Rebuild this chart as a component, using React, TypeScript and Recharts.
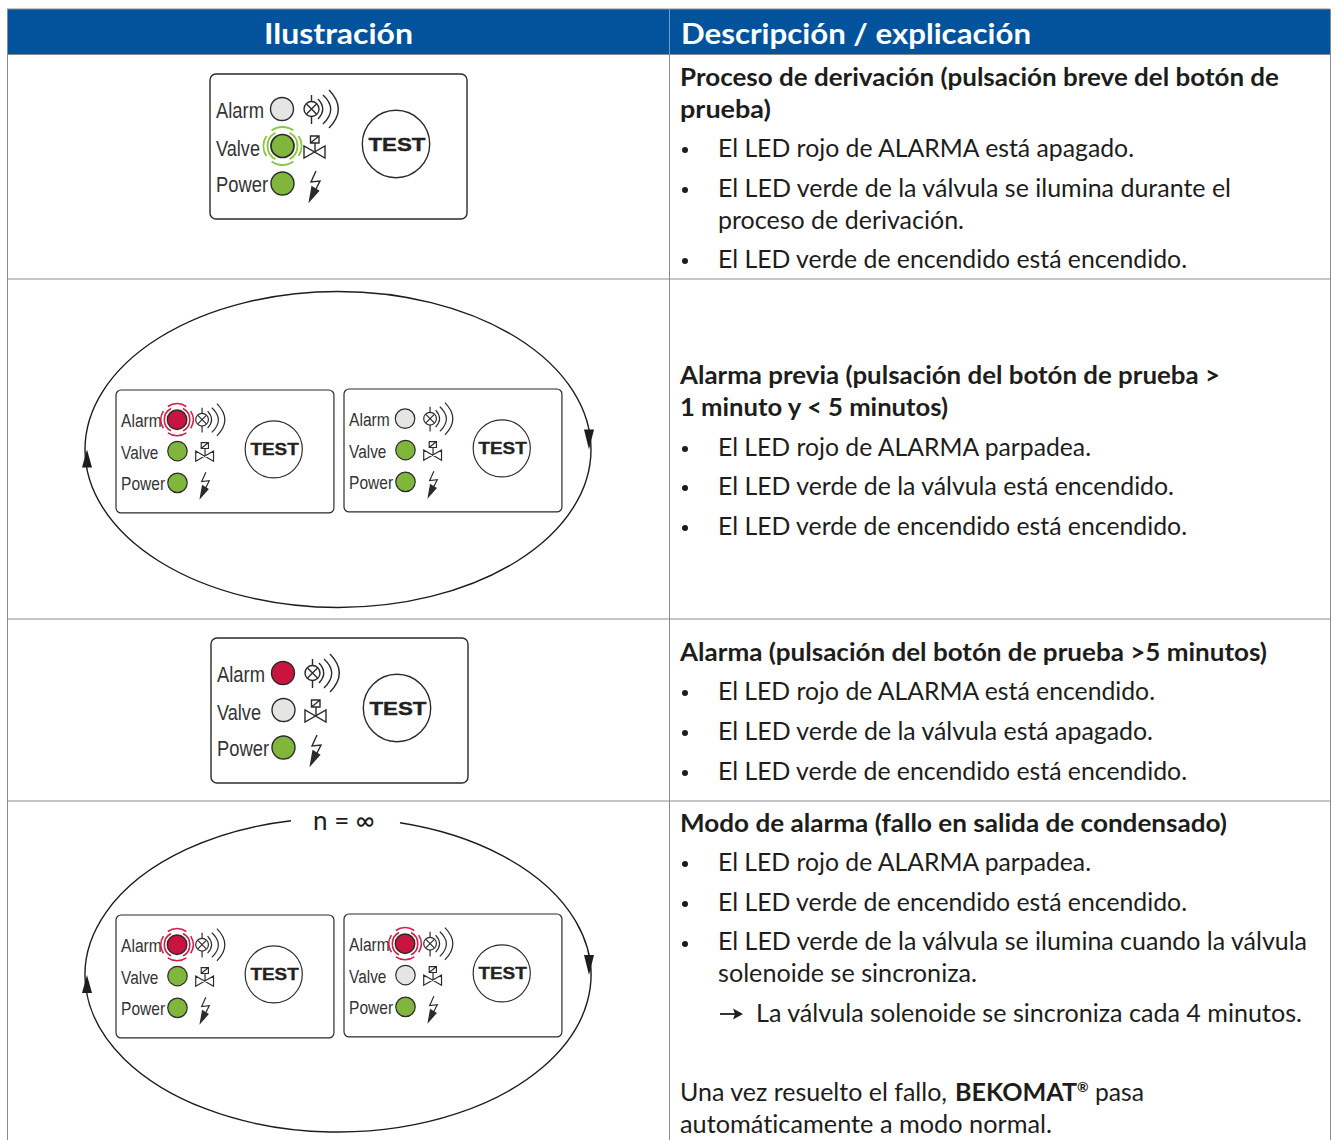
import { ReferenceArea, ReferenceLine, Scatter, ScatterChart, XAxis, YAxis } from 'recharts';

// La tabla entera vive en un espacio de 1338x1140: los ejes ocultos mapean 1:1 a píxeles.

const WIDTH = 1338;
const HEIGHT = 1140;

const INK = '#1d1d1b';
const PANEL_INK = '#2b2b2b';
const RULE = '#8c8c8c';
const HEADER_BLUE = '#03539c';
const BODY_FONT = 'Lato, "Noto Sans", sans-serif';
const PANEL_FONT = '"Liberation Sans", Arial, sans-serif';

type Led = 'off' | 'green' | 'red' | 'greenPulse' | 'redPulse';

const panelX = [210, 116, 344, 211, 116, 344];
const panelY = [74, 390, 389, 638, 915, 914];
const panelScale = [1, 0.848, 0.848, 1, 0.848, 0.848];
const panelLeds: Led[][] = [
  ['off', 'greenPulse', 'green'],
  ['redPulse', 'green', 'green'],
  ['off', 'green', 'green'],
  ['red', 'off', 'green'],
  ['redPulse', 'green', 'green'],
  ['redPulse', 'off', 'green'],
];

const ledOffsetX = [72, 72.5, 72.5];
const ledOffsetY = [35, 72, 109.5];

const ellipseCenterY = [449.5, 975];
const ellipseRy = [158, 157];
const ellipseGap = [0, 1];

const columnTitles = ['Ilustración', 'Descripción / explicación'];

const rowOneLines = [
  ['Proceso de derivación (pulsación breve del botón de', 680, 86, 599, 1],
  ['prueba)', 680, 118, 91, 1],
  ['El LED rojo de ALARMA está apagado.', 718, 157, 416, 0],
  ['El LED verde de la válvula se ilumina durante el', 718, 197, 513, 0],
  ['proceso de derivación.', 718, 229, 246, 0],
  ['El LED verde de encendido está encendido.', 718, 268, 469, 0],
];
const rowTwoLines = [
  ['Alarma previa (pulsación del botón de prueba >', 680, 384, 540, 1],
  ['1 minuto y < 5 minutos)', 680, 416, 268, 1],
  ['El LED rojo de ALARMA parpadea.', 718, 456, 373, 0],
  ['El LED verde de la válvula está encendido.', 718, 495, 456, 0],
  ['El LED verde de encendido está encendido.', 718, 535, 469, 0],
];
const rowThreeLines = [
  ['Alarma (pulsación del botón de prueba >5 minutos)', 680, 661, 587, 1],
  ['El LED rojo de ALARMA está encendido.', 718, 700, 437, 0],
  ['El LED verde de la válvula está apagado.', 718, 740, 435, 0],
  ['El LED verde de encendido está encendido.', 718, 780, 469, 0],
];
const rowFourLines = [
  ['Modo de alarma (fallo en salida de condensado)', 680, 832, 547, 1],
  ['El LED rojo de ALARMA parpadea.', 718, 871, 373, 0],
  ['El LED verde de encendido está encendido.', 718, 911, 469, 0],
  ['El LED verde de la válvula se ilumina cuando la válvula', 718, 950, 589, 0],
  ['solenoide se sincroniza.', 718, 982, 259, 0],
  ['La válvula solenoide se sincroniza cada 4 minutos.', 756, 1022, 546, 0],
  ['Una vez resuelto el fallo,', 680, 1101, 267, 0],
  ['BEKOMAT', 955, 1101, 122, 1],
  ['pasa', 1095, 1101, 49, 0],
  ['automáticamente a modo normal.', 680, 1133, 372, 0],
];

const bulletY = [150, 190, 261, 449, 488, 528, 693, 733, 773, 864, 904, 944];
const rowRuleY = [54.5, 279, 619, 801];

const leds = panelX.flatMap((px, p) =>
  panelLeds[p].map((state, i) => ({
    x: px + ledOffsetX[i] * panelScale[p],
    y: panelY[p] + ledOffsetY[i] * panelScale[p],
    state,
    scale: panelScale[p],
  })),
);
const panels = panelX.map((x, i) => ({ x, y: panelY[i], scale: panelScale[i] }));
const ellipses = ellipseCenterY.map((y, i) => ({ x: 338, y, ry: ellipseRy[i], gap: ellipseGap[i] }));
const bullets = bulletY.map((y) => ({ x: 685, y }));
const lines = [...rowOneLines, ...rowTwoLines, ...rowThreeLines, ...rowFourLines].map(
  ([text, x, y, width, bold]) => ({ text, x, y, width, bold }),
);
const titles = [
  { text: columnTitles[0], x: 264, y: 44, width: 149 },
  { text: columnTitles[1], x: 681, y: 44, width: 350 },
];

function arcPath(r: number, from: number, to: number) {
  const a = (from * Math.PI) / 180;
  const b = (to * Math.PI) / 180;
  return `M${r * Math.cos(a)} ${r * Math.sin(a)}A${r} ${r} 0 0 1 ${r * Math.cos(b)} ${r * Math.sin(b)}`;
}

function PanelShape({ cx, cy, payload }: any) {
  const label = { fontFamily: PANEL_FONT, fontSize: 22, fill: '#333', lengthAdjust: 'spacingAndGlyphs' } as const;
  return (
    <g transform={`translate(${cx} ${cy}) scale(${payload.scale})`} fill="none" stroke={PANEL_INK} strokeWidth={1.4}>
      <rect x={0} y={0} width={257} height={145} rx={6} fill="#fff" />
      <text x={6} y={43.5} textLength={48} stroke="none" {...label}>Alarm</text>
      <text x={6} y={81.5} textLength={44} stroke="none" {...label}>Valve</text>
      <text x={6} y={118} textLength={52} stroke="none" {...label}>Power</text>

      <circle cx={101.5} cy={35} r={7.5} />
      <path d="M101.5 21V27.5M101.5 42.5V50M96.5 30L106.5 40M106.5 30L96.5 40" />
      <path d="M108 25Q117.4 35 108 45M113 21Q128.4 35 113 50M119 16Q137.6 35 119 54" />

      <path d="M100.5 62H109V69H100.5ZM100.5 69L109 62M105 69V77M94 72V84L115 72V84Z" />

      <path d="M106 97L101 108L110 107L105 117" />
      <path d="M99.5 127L102 113L108.5 117Z" fill={PANEL_INK} />

      <circle cx={186} cy={70} r={33.7} />
      <text
        x={158.5}
        y={77}
        textLength={57}
        lengthAdjust="spacingAndGlyphs"
        fontFamily={PANEL_FONT}
        fontWeight={700}
        fontSize={19}
        fill="#222"
        stroke="#222"
        strokeWidth={0.4}
      >
        TEST
      </text>
    </g>
  );
}

function LedShape({ cx, cy, payload }: any) {
  const state: Led = payload.state;
  const isRed = state === 'red' || state === 'redPulse';
  const isOff = state === 'off';
  const fill = isOff ? '#e5e6e4' : isRed ? '#c8143f' : '#80b63c';
  const ring = isRed ? '#d21f4a' : '#8cc63f';
  const pulse = state === 'greenPulse' || state === 'redPulse';
  return (
    <g transform={`translate(${cx} ${cy}) scale(${payload.scale})`}>
      {pulse && (
        <g fill="none" stroke={ring} strokeWidth={1.9}>
          <path d={arcPath(19, -125, -55)} />
          <path d={arcPath(19, 55, 125)} />
          <path d={arcPath(19, -32, 32)} />
          <path d={arcPath(19, 148, 212)} />
          <path d={arcPath(15, -62, 62)} />
          <path d={arcPath(15, 118, 242)} />
        </g>
      )}
      <circle r={11.5} fill={fill} stroke={PANEL_INK} strokeWidth={pulse ? 1.7 : 1.4} />
    </g>
  );
}

function EllipseShape({ cx, cy, payload }: any) {
  const rx = 253;
  const ry = payload.ry;
  let outline = `M${-rx} 0A${rx} ${ry} 0 1 1 ${rx} 0A${rx} ${ry} 0 1 1 ${-rx} 0Z`;
  if (payload.gap) {
    const startX = 62;
    const endX = -47;
    const yAt = (x: number) => -ry * Math.sqrt(1 - (x * x) / (rx * rx));
    outline = `M${startX} ${yAt(startX)}A${rx} ${ry} 0 1 1 ${endX} ${yAt(endX)}`;
  }
  return (
    <g transform={`translate(${cx} ${cy})`}>
      <path d={outline} fill="none" stroke={INK} strokeWidth={1.4} />
      <path d="M-251 0L-256 18H-246Z" fill={INK} />
      <path d="M251 0L246 -20H256Z" fill={INK} />
    </g>
  );
}

function LineShape({ cx, cy, payload }: any) {
  return (
    <text
      x={cx}
      y={cy}
      textLength={payload.width}
      lengthAdjust="spacingAndGlyphs"
      fontFamily={BODY_FONT}
      fontSize={25}
      fontWeight={payload.bold ? 700 : 400}
      fill={INK}
      style={{ fontVariantLigatures: 'none' }}
    >
      {payload.text}
    </text>
  );
}

function TitleShape({ cx, cy, payload }: any) {
  return (
    <text
      x={cx}
      y={cy}
      textLength={payload.width}
      lengthAdjust="spacingAndGlyphs"
      fontFamily={BODY_FONT}
      fontSize={29}
      fontWeight={700}
      fill="#fff"
      style={{ fontVariantLigatures: 'none' }}
    >
      {payload.text}
    </text>
  );
}

export default function App() {
  return (
    <div style={{ position: 'absolute', left: 0, top: 0, width: WIDTH, height: HEIGHT, background: '#fff' }}>
      <ScatterChart width={WIDTH} height={HEIGHT} margin={{ top: 0, right: 0, bottom: 0, left: 0 }}>
        <XAxis type="number" dataKey="x" domain={[0, WIDTH]} hide allowDataOverflow />
        <YAxis type="number" dataKey="y" domain={[0, HEIGHT]} reversed hide allowDataOverflow />

        <ReferenceArea x1={7} x2={1330} y1={9} y2={54} fill={HEADER_BLUE} fillOpacity={1} stroke="none" />
        <ReferenceLine segment={[{ x: 7, y: 9 }, { x: 1330, y: 9 }]} stroke={RULE} strokeWidth={1} />
        {rowRuleY.map((y) => (
          <ReferenceLine key={y} segment={[{ x: 7, y }, { x: 1330, y }]} stroke={RULE} strokeWidth={1} />
        ))}
        <ReferenceLine segment={[{ x: 7.5, y: 9 }, { x: 7.5, y: HEIGHT }]} stroke={RULE} strokeWidth={1} />
        <ReferenceLine segment={[{ x: 669.5, y: 54 }, { x: 669.5, y: HEIGHT }]} stroke={RULE} strokeWidth={1} />
        <ReferenceLine segment={[{ x: 669.5, y: 9 }, { x: 669.5, y: 54 }]} stroke="#6f9cc8" strokeWidth={1} />
        <ReferenceLine segment={[{ x: 1330.5, y: 9 }, { x: 1330.5, y: HEIGHT }]} stroke={RULE} strokeWidth={1} />

        <Scatter data={ellipses} shape={EllipseShape} isAnimationActive={false} />
        <Scatter data={panels} shape={PanelShape} isAnimationActive={false} />
        <Scatter data={leds} shape={LedShape} isAnimationActive={false} />
        <Scatter data={titles} shape={TitleShape} isAnimationActive={false} />
        <Scatter data={lines} shape={LineShape} isAnimationActive={false} />
        <Scatter
          data={bullets}
          shape={({ cx, cy }: any) => <circle cx={cx} cy={cy} r={3} fill={INK} />}
          isAnimationActive={false}
        />
        <Scatter
          data={[{ x: 720, y: 1014 }]}
          shape={({ cx, cy }: any) => (
            <g transform={`translate(${cx} ${cy})`}>
              <path d="M0 0H18" stroke={INK} strokeWidth={1.8} />
              <path d="M23 0L13 -5.5L15 0L13 5.5Z" fill={INK} />
            </g>
          )}
          isAnimationActive={false}
        />
        <Scatter
          data={[{ x: 1077, y: 1092, text: '®' }]}
          shape={({ cx, cy, payload }: any) => (
            <text x={cx} y={cy} fontFamily={BODY_FONT} fontWeight={700} fontSize={14} fill={INK}>
              {payload.text}
            </text>
          )}
          isAnimationActive={false}
        />
        <Scatter
          data={[{ x: 313, y: 830, text: 'n = ∞' }]}
          shape={({ cx, cy, payload }: any) => (
            <text
              x={cx}
              y={cy}
              textLength={62}
              lengthAdjust="spacingAndGlyphs"
              fontFamily={BODY_FONT}
              fontSize={27}
              fill={INK}
            >
              {payload.text}
            </text>
          )}
          isAnimationActive={false}
        />
      </ScatterChart>
    </div>
  );
}
